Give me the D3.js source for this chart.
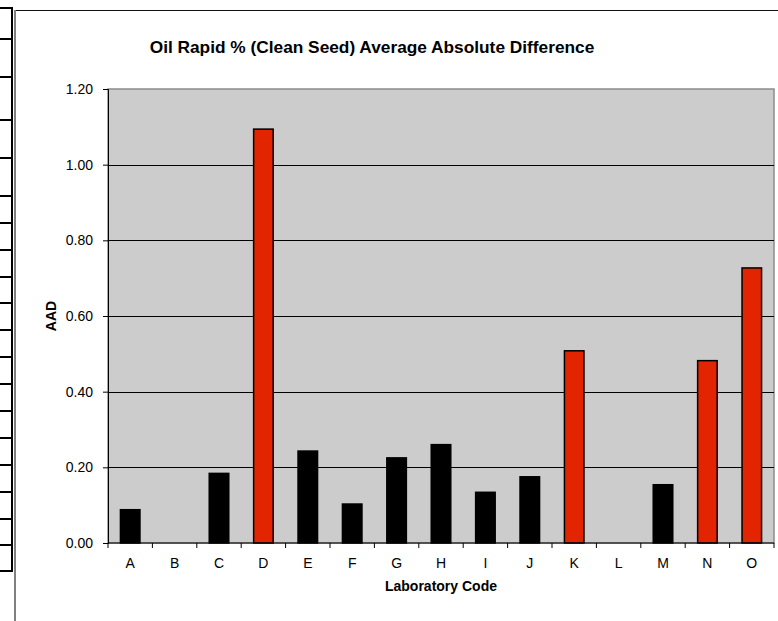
<!DOCTYPE html>
<html>
<head>
<meta charset="utf-8">
<script src="https://cdn.jsdelivr.net/npm/d3@7"></script>
<style>
  body { margin: 0; background: #fff; }
  text { font-family: Arial, "Liberation Sans", sans-serif; fill: #000; }
</style>
</head>
<body>
<div id="chart"></div>
<script>
// chart data
const labs = ['A', 'B', 'C', 'D', 'E', 'F', 'G', 'H', 'I', 'J', 'K', 'L', 'M', 'N', 'O'];
const aad = [0.088, 0, 0.184, 1.094, 0.243, 0.103, 0.225, 0.26, 0.134, 0.175, 0.508, 0, 0.154, 0.482, 0.727];
const flagged = ['D', 'K', 'N', 'O'];
const yTicks = [0, 0.2, 0.4, 0.6, 0.8, 1.0, 1.2];
const chartTitle = 'Oil Rapid % (Clean Seed) Average Absolute Difference';

// spreadsheet rows peeking in on the left
const sheetRows = [8, 39, 77, 120, 158, 196, 223, 250, 277, 303, 330, 357, 384, 411, 438, 465, 492, 519, 545, 571];

const W = 778, H = 621;
const margin = { left: 108, right: 4, top: 89, bottom: 78 };

const svg = d3.select('#chart').append('svg')
  .attr('width', W)
  .attr('height', H);

svg.append('rect').attr('width', W).attr('height', H).attr('fill', '#fff');

// left sheet cells
const sheet = svg.append('g');
sheet.selectAll('line.row')
  .data(sheetRows)
  .enter()
  .append('line')
  .attr('x1', 0).attr('x2', 13)
  .attr('y1', d => d).attr('y2', d => d)
  .attr('stroke', '#000').attr('stroke-width', 2);
sheet.append('line')
  .attr('x1', 12).attr('x2', 12)
  .attr('y1', sheetRows[0] - 1).attr('y2', sheetRows[sheetRows.length - 1] + 1)
  .attr('stroke', '#000').attr('stroke-width', 2);

// chart frame
svg.append('line')
  .attr('x1', 14).attr('x2', W).attr('y1', 10.5).attr('y2', 10.5)
  .attr('stroke', '#111').attr('stroke-width', 1);
svg.append('line')
  .attr('x1', 15).attr('x2', 15).attr('y1', 10).attr('y2', H)
  .attr('stroke', '#808080').attr('stroke-width', 2);

const x = d3.scaleBand()
  .domain(labs)
  .range([margin.left, W - margin.right])
  .paddingInner(0.56)
  .paddingOuter(0.28);

const y = d3.scaleLinear()
  .domain([0, 1.2])
  .range([H - margin.bottom, margin.top]);

// plot area
svg.append('rect')
  .attr('x', margin.left)
  .attr('y', y(1.2))
  .attr('width', W - margin.right - margin.left)
  .attr('height', y(0) - y(1.2))
  .attr('fill', '#cccccc')
  .attr('stroke', '#8c8c8c')
  .attr('stroke-width', 1.5);

// gridlines
svg.selectAll('.grid')
  .data(yTicks.filter(d => d > 0 && d < 1.2))
  .enter()
  .append('line')
  .attr('class', 'grid')
  .attr('x1', margin.left).attr('x2', W - margin.right)
  .attr('y1', d => Math.round(y(d)) + 0.5).attr('y2', d => Math.round(y(d)) + 0.5)
  .attr('stroke', '#000').attr('stroke-width', 1);

// bars
svg.selectAll('.bar')
  .data(labs.map((l, i) => ({ lab: l, v: aad[i] })).filter(d => d.v > 0))
  .enter()
  .append('rect')
  .attr('class', 'bar')
  .attr('x', d => x(d.lab))
  .attr('y', d => y(d.v))
  .attr('width', x.bandwidth())
  .attr('height', d => y(0) - y(d.v))
  .attr('fill', d => flagged.includes(d.lab) ? '#e32400' : '#000')
  .attr('stroke', '#000')
  .attr('stroke-width', 1.5);

// y axis
const yAxis = svg.append('g')
  .attr('transform', `translate(${margin.left},0)`)
  .call(d3.axisLeft(y).tickValues(yTicks).tickFormat(d3.format('.2f')).tickSize(5).tickPadding(10));
yAxis.selectAll('text').style('font-size', '14px');
yAxis.selectAll('line, path').attr('stroke', '#000');

// x axis
const xAxis = svg.append('g')
  .attr('transform', `translate(0,${y(0)})`)
  .call(d3.axisBottom(x).tickSize(0).tickPadding(15));
xAxis.selectAll('text').style('font-size', '14px');
xAxis.select('.domain').attr('stroke', '#000').attr('d', `M${margin.left},0H${W - margin.right}`);

// tick marks between categories
const gap = (x.step() - x.bandwidth()) / 2;
const edges = labs.map(l => x(l) - gap).concat([x(labs[labs.length - 1]) + x.bandwidth() + gap]);
xAxis.selectAll('.edge')
  .data(edges)
  .enter()
  .append('line')
  .attr('class', 'edge')
  .attr('x1', d => d).attr('x2', d => d)
  .attr('y1', 0).attr('y2', 5)
  .attr('stroke', '#000');

// titles
svg.append('text')
  .attr('x', 372)
  .attr('y', 53)
  .attr('text-anchor', 'middle')
  .style('font-size', '17.3px')
  .style('font-weight', 'bold')
  .text(chartTitle);

svg.append('text')
  .attr('x', (margin.left + W - margin.right) / 2)
  .attr('y', 591)
  .attr('text-anchor', 'middle')
  .style('font-size', '14px')
  .style('font-weight', 'bold')
  .text('Laboratory Code');

svg.append('text')
  .attr('transform', `translate(56,${(y(0) + y(1.2)) / 2}) rotate(-90)`)
  .attr('text-anchor', 'middle')
  .style('font-size', '14px')
  .style('font-weight', 'bold')
  .text('AAD');
</script>
</body>
</html>
